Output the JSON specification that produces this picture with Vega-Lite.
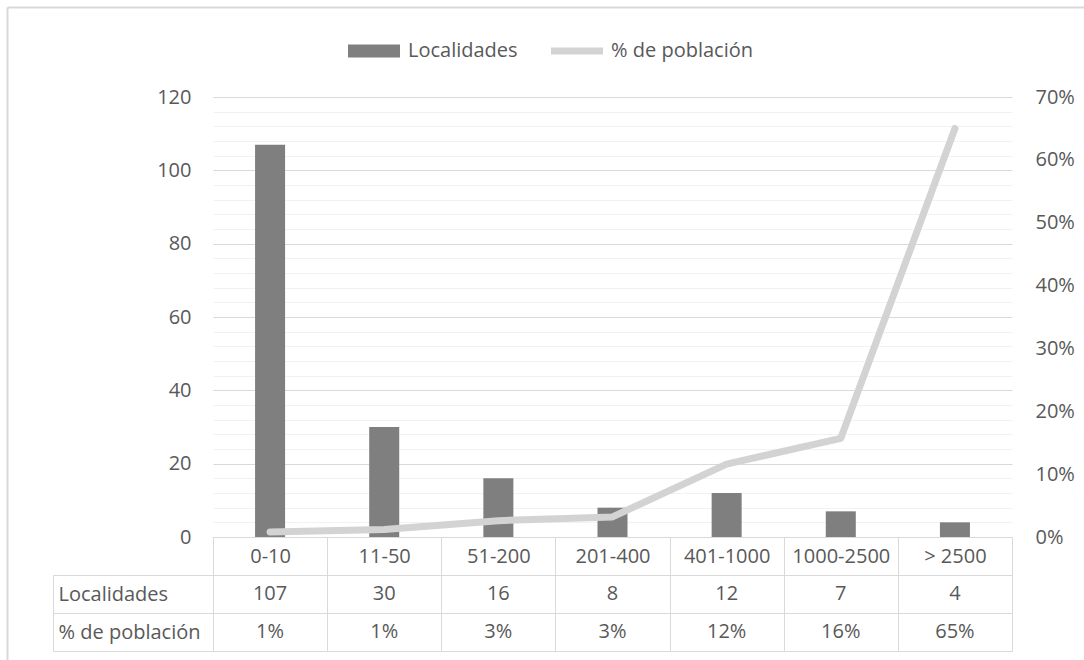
{
  "$schema": "https://vega.github.io/schema/vega-lite/v6.json",
  "width": 799,
  "height": 440,
  "autosize": "none",
  "padding": {"left": 213, "top": 97, "right": 72, "bottom": 123},
  "background": "white",
  "config": {
    "font": "Open Sans",
    "view": {"stroke": null},
    "axis": {"labelFont": "Open Sans", "labelFontSize": 20, "labelColor": "#595959", "title": null}
  },
  "data": {
    "values": [
      {"cat": "0-10", "loc": 107, "pct": 0.008},
      {"cat": "11-50", "loc": 30, "pct": 0.012},
      {"cat": "51-200", "loc": 16, "pct": 0.026},
      {"cat": "201-400", "loc": 8, "pct": 0.032},
      {"cat": "401-1000", "loc": 12, "pct": 0.116},
      {"cat": "1000-2500", "loc": 7, "pct": 0.157},
      {"cat": "> 2500", "loc": 4, "pct": 0.65}
    ]
  },
  "layer": [
    {
      "layer": [
        {
          "mark": {"type": "bar", "width": {"band": 0.263}},
          "encoding": {
            "x": {
              "field": "cat", "type": "nominal", "sort": null,
              "scale": {"paddingInner": 0, "paddingOuter": 0},
              "axis": {
                "orient": "bottom", "domainColor": "#d9d9d9", "domainWidth": 1,
                "tickBand": "extent", "tickSize": 114, "tickColor": "#d9d9d9", "tickWidth": 1,
                "labelAngle": 0, "labelBaseline": "middle", "labelPadding": -95, "grid": false
              }
            },
            "y": {
              "field": "loc", "type": "quantitative",
              "scale": {"domain": [0, 120], "nice": false},
              "axis": {
                "orient": "left",
                "values": [0, 4, 8, 12, 16, 20, 24, 28, 32, 36, 40, 44, 48, 52, 56, 60, 64, 68, 72, 76, 80, 84, 88, 92, 96, 100, 104, 108, 112, 116, 120],
                "labelExpr": "datum.value % 20 === 0 ? datum.label : ''",
                "ticks": false, "domain": false, "labelPadding": 22,
                "grid": true,
                "gridColor": {"condition": {"test": "datum.value % 20 === 0", "value": "#d9d9d9"}, "value": "#f2f2f2"},
                "gridWidth": 1
              }
            },
            "color": {
              "datum": "Localidades", "type": "nominal",
              "scale": {"domain": ["Localidades", "% de población"], "range": ["#7f7f7f", "#d3d3d3"]},
              "legend": {
                "orient": "none", "legendX": 135, "legendY": -72,
                "direction": "horizontal", "title": null,
                "labelFont": "Open Sans", "labelFontSize": 20, "labelColor": "#595959",
                "symbolSize": 2704, "columnPadding": 33, "labelOffset": 8, "padding": 0,
                "encode": {
                  "symbols": {
                    "update": {
                      "shape": {"signal": "datum.value === 'Localidades' ? 'M-1,-0.25H1V0.25H-1Z' : 'M-1,-0.135H1V0.135H-1Z'"},
                      "fill": {"signal": "datum.value === 'Localidades' ? '#7f7f7f' : '#d3d3d3'"},
                      "strokeWidth": {"value": 0},
                      "opacity": {"value": 1}
                    }
                  }
                }
              }
            }
          }
        },
        {
          "mark": {"type": "line", "strokeWidth": 7, "strokeCap": "round", "strokeJoin": "round", "color": "#d3d3d3"},
          "encoding": {
            "x": {"field": "cat", "type": "nominal", "sort": null},
            "y": {
              "field": "pct", "type": "quantitative",
              "scale": {"domain": [0, 0.7], "nice": false},
              "axis": {
                "orient": "right", "format": ".0%",
                "values": [0, 0.1, 0.2, 0.3, 0.4, 0.5, 0.6, 0.7],
                "ticks": false, "domain": false, "grid": false, "labelPadding": 23
              }
            }
          }
        },
        {
          "layer": [
            {
              "mark": {"type": "text", "fontSize": 20, "color": "#595959", "font": "Open Sans"},
              "encoding": {
                "x": {"field": "cat", "type": "nominal", "sort": null},
                "y": {
                  "datum": "Localidades", "type": "nominal",
                  "scale": {"type": "band", "domain": ["Localidades", "% de población"], "range": [478, 554], "paddingInner": 0, "paddingOuter": 0},
                  "axis": {
                    "orient": "left", "offset": 160,
                    "domainColor": "#d9d9d9", "domainWidth": 1,
                    "tickBand": "extent", "tickSize": -160, "tickColor": "#d9d9d9", "tickWidth": 1,
                    "grid": true, "gridColor": "#d9d9d9", "gridWidth": 1,
                    "labelAlign": "left", "labelPadding": 155, "labelBaseline": "middle"
                  }
                },
                "text": {"field": "loc", "type": "quantitative"}
              }
            },
            {
              "mark": {"type": "text", "fontSize": 20, "color": "#595959", "font": "Open Sans"},
              "encoding": {
                "x": {"field": "cat", "type": "nominal", "sort": null},
                "y": {"datum": "% de población", "type": "nominal"},
                "text": {"field": "pct", "type": "quantitative", "format": ".0%"}
              }
            }
          ]
        }
      ],
      "resolve": {"scale": {"y": "independent"}, "axis": {"y": "independent"}}
    },
    {
      "mark": {"type": "point", "opacity": 0},
      "encoding": {
        "x": {
          "field": "cat", "type": "nominal", "sort": null,
          "scale": {"type": "point", "range": [-206, 880], "padding": 0},
          "axis": {"orient": "top", "offset": 90, "domainColor": "#d9d9d9", "domainWidth": 2, "labels": false, "ticks": false, "grid": false}
        },
        "y": {
          "field": "cat", "type": "nominal", "sort": null,
          "scale": {"type": "point", "range": [-90, 570], "padding": 0},
          "axis": {"orient": "left", "offset": 206, "domainColor": "#d9d9d9", "domainWidth": 2, "labels": false, "ticks": false, "grid": false}
        }
      }
    }
  ],
  "resolve": {"scale": {"x": "independent", "y": "independent"}, "axis": {"x": "independent", "y": "independent"}}
}
